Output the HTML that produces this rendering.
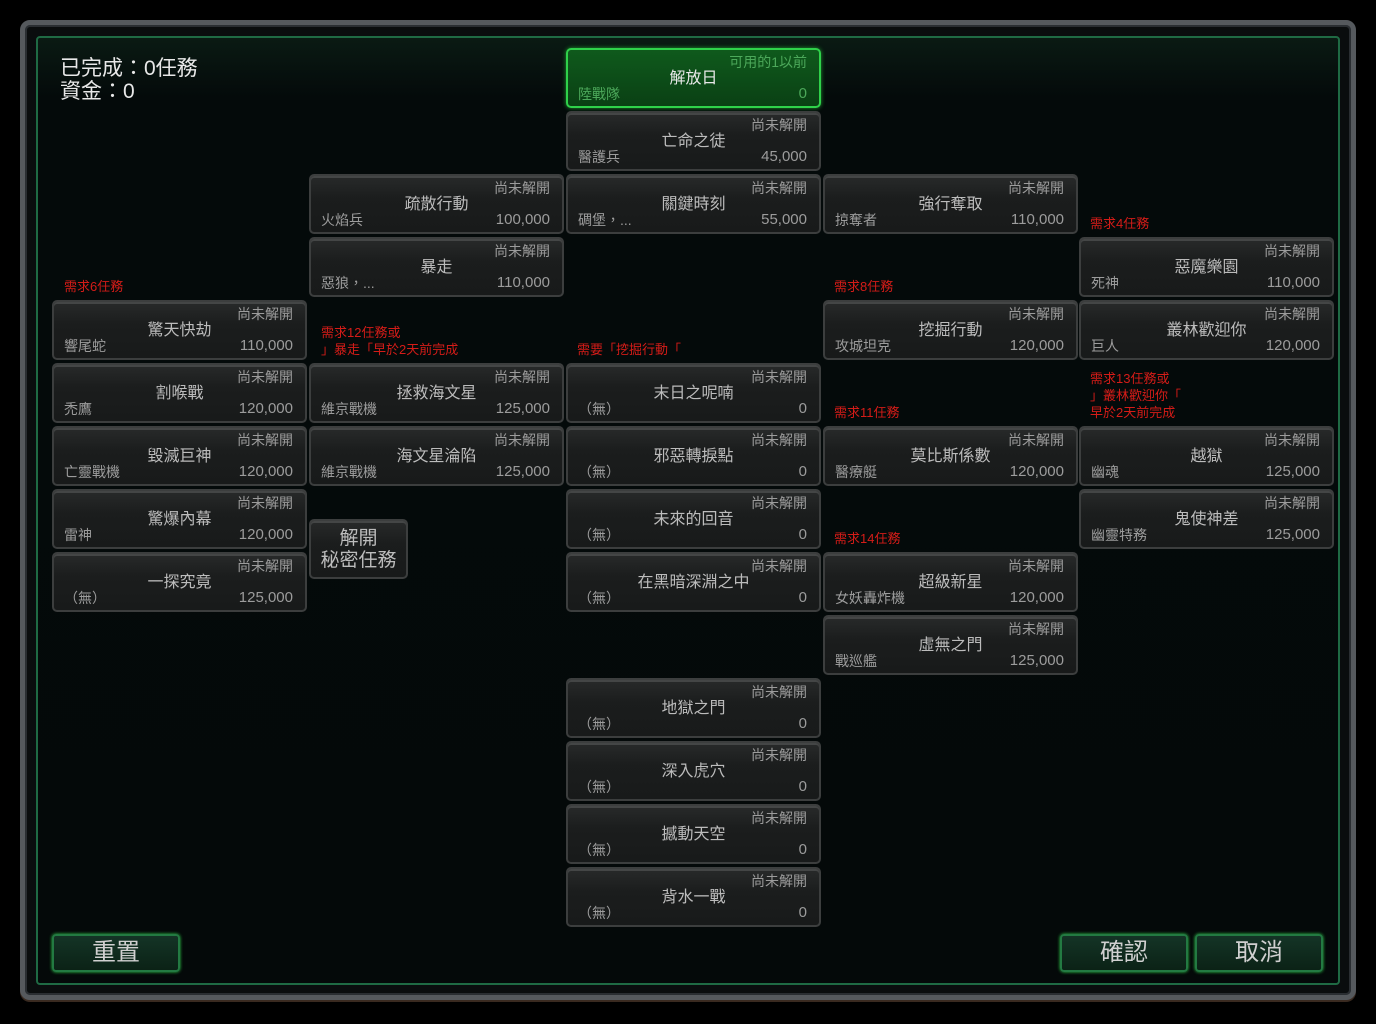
<!DOCTYPE html>
<html><head><meta charset="utf-8">
<style>
*{margin:0;padding:0;box-sizing:border-box}
body{width:1376px;height:1024px;background:#000;position:relative;overflow:hidden;font-family:"Liberation Sans","Noto Sans CJK TC","WenQuanYi Zen Hei",sans-serif}
.frame{position:absolute;left:20px;top:20px;width:1336px;height:980px;border:5px solid #55595d;border-radius:10px;background:#0a0d0e;box-shadow:inset 0 0 0 2px #2a2e32,0 2px 0 #3a2a20}
.panel{position:absolute;left:36px;top:36px;width:1304px;height:949px;border:2px solid #1f6a44;border-radius:4px;background:linear-gradient(#0a1a13 0,#040a0a 60px,#040909 100%)}
.n{position:absolute;width:255px;height:60px;border:2px solid #3c3e3e;border-radius:5px;background:linear-gradient(#282a2a,#1b1d1d 40%,#181a1a);box-shadow:inset 0 2px 0 #444646}
.n span{position:absolute;white-space:nowrap;color:#9c9c9c;font-size:14px;line-height:16px}
.n .s{right:12px;top:4px}
.n .t{left:0;right:0;text-align:center;top:20px;font-size:16px;line-height:18px;color:#bcbcbc}
.n .l{left:10px;top:36px}
.n .v{right:12px;top:36px;font-size:15px}
.g{background:linear-gradient(#0f5a1c,#0a4014);border-color:#2fd14a;box-shadow:0 0 4px #1f9a2f}
.g .s,.g .l,.g .v{color:#4ca85a}
.g .t{color:#e8e8e8}
.r{position:absolute;color:#d41c18;font-size:13px;line-height:17px;white-space:nowrap}
.b{position:absolute;height:38px;border:2px solid #237a42;border-radius:4px;background:linear-gradient(#143426,#0b2216);color:#d0d0d0;font-size:24px;text-align:center;line-height:34px;box-shadow:0 0 3px #2fd14a}
</style></head><body>
<div class="frame"></div>
<div class="panel"></div>
<div style="position:absolute;left:60px;top:57px;color:#e8e8e8;font-size:21px;line-height:23px">已完成：0任務<br>資金：0</div>

<div class="n g" style="left:566px;top:48px"><span class="s">可用的1以前</span><span class="t">解放日</span><span class="l">陸戰隊</span><span class="v">0</span></div>
<div class="n" style="left:566px;top:111px"><span class="s">尚未解開</span><span class="t">亡命之徒</span><span class="l">醫護兵</span><span class="v">45,000</span></div>
<div class="n" style="left:566px;top:174px"><span class="s">尚未解開</span><span class="t">關鍵時刻</span><span class="l">碉堡，...</span><span class="v">55,000</span></div>
<div class="n" style="left:566px;top:363px"><span class="s">尚未解開</span><span class="t">末日之呢喃</span><span class="l">（無）</span><span class="v">0</span></div>
<div class="n" style="left:566px;top:426px"><span class="s">尚未解開</span><span class="t">邪惡轉捩點</span><span class="l">（無）</span><span class="v">0</span></div>
<div class="n" style="left:566px;top:489px"><span class="s">尚未解開</span><span class="t">未來的回音</span><span class="l">（無）</span><span class="v">0</span></div>
<div class="n" style="left:566px;top:552px"><span class="s">尚未解開</span><span class="t">在黑暗深淵之中</span><span class="l">（無）</span><span class="v">0</span></div>
<div class="n" style="left:566px;top:678px"><span class="s">尚未解開</span><span class="t">地獄之門</span><span class="l">（無）</span><span class="v">0</span></div>
<div class="n" style="left:566px;top:741px"><span class="s">尚未解開</span><span class="t">深入虎穴</span><span class="l">（無）</span><span class="v">0</span></div>
<div class="n" style="left:566px;top:804px"><span class="s">尚未解開</span><span class="t">撼動天空</span><span class="l">（無）</span><span class="v">0</span></div>
<div class="n" style="left:566px;top:867px"><span class="s">尚未解開</span><span class="t">背水一戰</span><span class="l">（無）</span><span class="v">0</span></div>

<div class="n" style="left:309px;top:174px"><span class="s">尚未解開</span><span class="t">疏散行動</span><span class="l">火焰兵</span><span class="v">100,000</span></div>
<div class="n" style="left:309px;top:237px"><span class="s">尚未解開</span><span class="t">暴走</span><span class="l">惡狼，...</span><span class="v">110,000</span></div>
<div class="n" style="left:309px;top:363px"><span class="s">尚未解開</span><span class="t">拯救海文星</span><span class="l">維京戰機</span><span class="v">125,000</span></div>
<div class="n" style="left:309px;top:426px"><span class="s">尚未解開</span><span class="t">海文星淪陷</span><span class="l">維京戰機</span><span class="v">125,000</span></div>
<div class="n" style="left:309px;top:519px;width:99px;height:60px"><span style="left:0;right:0;top:7px;text-align:center;font-size:19px;line-height:22px;color:#bcbcbc">解開<br>秘密任務</span></div>

<div class="n" style="left:52px;top:300px"><span class="s">尚未解開</span><span class="t">驚天快劫</span><span class="l">響尾蛇</span><span class="v">110,000</span></div>
<div class="n" style="left:52px;top:363px"><span class="s">尚未解開</span><span class="t">割喉戰</span><span class="l">禿鷹</span><span class="v">120,000</span></div>
<div class="n" style="left:52px;top:426px"><span class="s">尚未解開</span><span class="t">毀滅巨神</span><span class="l">亡靈戰機</span><span class="v">120,000</span></div>
<div class="n" style="left:52px;top:489px"><span class="s">尚未解開</span><span class="t">驚爆內幕</span><span class="l">雷神</span><span class="v">120,000</span></div>
<div class="n" style="left:52px;top:552px"><span class="s">尚未解開</span><span class="t">一探究竟</span><span class="l">（無）</span><span class="v">125,000</span></div>

<div class="n" style="left:823px;top:174px"><span class="s">尚未解開</span><span class="t">強行奪取</span><span class="l">掠奪者</span><span class="v">110,000</span></div>
<div class="n" style="left:823px;top:300px"><span class="s">尚未解開</span><span class="t">挖掘行動</span><span class="l">攻城坦克</span><span class="v">120,000</span></div>
<div class="n" style="left:823px;top:426px"><span class="s">尚未解開</span><span class="t">莫比斯係數</span><span class="l">醫療艇</span><span class="v">120,000</span></div>
<div class="n" style="left:823px;top:552px"><span class="s">尚未解開</span><span class="t">超級新星</span><span class="l">女妖轟炸機</span><span class="v">120,000</span></div>
<div class="n" style="left:823px;top:615px"><span class="s">尚未解開</span><span class="t">虛無之門</span><span class="l">戰巡艦</span><span class="v">125,000</span></div>

<div class="n" style="left:1079px;top:237px"><span class="s">尚未解開</span><span class="t">惡魔樂園</span><span class="l">死神</span><span class="v">110,000</span></div>
<div class="n" style="left:1079px;top:300px"><span class="s">尚未解開</span><span class="t">叢林歡迎你</span><span class="l">巨人</span><span class="v">120,000</span></div>
<div class="n" style="left:1079px;top:426px"><span class="s">尚未解開</span><span class="t">越獄</span><span class="l">幽魂</span><span class="v">125,000</span></div>
<div class="n" style="left:1079px;top:489px"><span class="s">尚未解開</span><span class="t">鬼使神差</span><span class="l">幽靈特務</span><span class="v">125,000</span></div>

<div class="r" style="left:64px;top:278px">需求6任務</div>
<div class="r" style="left:321px;top:324px">需求12任務或<br>」暴走「早於2天前完成</div>
<div class="r" style="left:577px;top:341px">需要「挖掘行動「</div>
<div class="r" style="left:1090px;top:215px">需求4任務</div>
<div class="r" style="left:834px;top:278px">需求8任務</div>
<div class="r" style="left:834px;top:404px">需求11任務</div>
<div class="r" style="left:1090px;top:370px">需求13任務或<br>」叢林歡迎你「<br>早於2天前完成</div>
<div class="r" style="left:834px;top:530px">需求14任務</div>

<div class="b" style="left:52px;top:934px;width:128px">重置</div>
<div class="b" style="left:1060px;top:934px;width:128px">確認</div>
<div class="b" style="left:1195px;top:934px;width:128px">取消</div>
</body></html>
